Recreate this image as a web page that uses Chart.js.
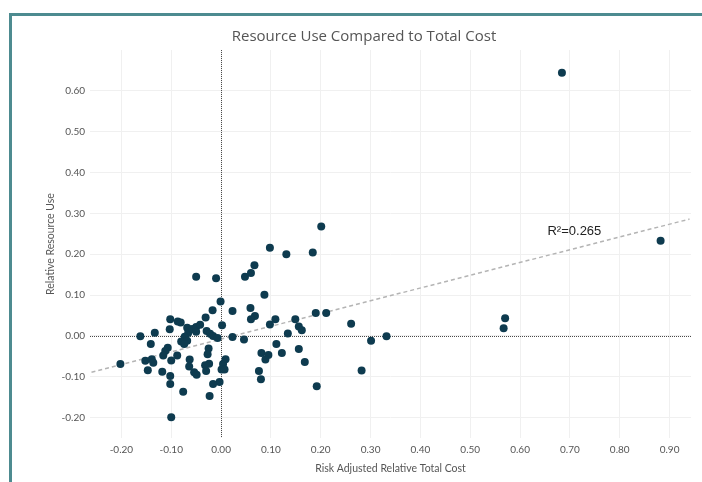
<!DOCTYPE html>
<html>
<head>
<meta charset="utf-8">
<title>Resource Use Compared to Total Cost</title>
<script src="https://cdn.jsdelivr.net/npm/chart.js@4.4.1/dist/chart.umd.min.js"></script>
<style>
    html, body { margin: 0; padding: 0; background: #fff; }
    #wrap { position: relative; width: 702px; height: 482px; overflow: hidden; }
    #frame {
        position: absolute; left: 9px; top: 13px; width: 720px; height: 500px;
        border-left: 3px solid #4d8b90; border-top: 3px solid #4d8b90;
        pointer-events: none;
    }
</style>
</head>
<body>
<div id="wrap">
    <canvas id="chart" width="702" height="482"></canvas>
    <div id="frame"></div>
</div>
<script>
// risk adjusted relative total cost (x) / relative resource use (y), one entry per provider
const costValues = [0.684, 0.882, 0.201, 0.098, 0.131, 0.184, 0.067, 0.060, 0.048, -0.050,
    -0.010, 0.087, -0.001, -0.017, 0.023, 0.059, 0.068, 0.060, -0.031, -0.102,
    -0.087, -0.081, 0.002, 0.109, 0.149, 0.190, 0.211, 0.098, 0.156, 0.162,
    0.261, 0.567, 0.570, -0.103, -0.068, -0.066, -0.058, -0.050, -0.042, -0.050,
    -0.133, -0.162, -0.029, -0.022, -0.016, -0.007, 0.023, 0.046, 0.134, -0.073,
    -0.080, -0.068, -0.074, -0.141, 0.301, 0.332, 0.111, -0.107, -0.112, -0.116,
    -0.025, -0.027, -0.088, -0.152, -0.139, -0.136, -0.100, -0.063, -0.202, 0.009,
    0.004, 0.001, 0.007, -0.024, -0.032, -0.030, -0.064, -0.054, -0.049, -0.147,
    -0.118, 0.076, 0.080, 0.081, 0.095, 0.089, 0.122, 0.156, 0.168, 0.282,
    -0.102, -0.102, -0.003, -0.016, -0.076, -0.023, -0.100, 0.192];

const resourceValues = [0.644, 0.233, 0.268, 0.216, 0.200, 0.204, 0.173, 0.154, 0.145, 0.145,
    0.141, 0.101, 0.084, 0.063, 0.061, 0.068, 0.049, 0.041, 0.045, 0.041,
    0.035, 0.033, 0.026, 0.041, 0.041, 0.056, 0.056, 0.028, 0.023, 0.014,
    0.030, 0.019, 0.043, 0.016, 0.020, 0.007, 0.017, 0.022, 0.027, 0.010,
    0.008, -0.001, 0.012, 0.005, 0.000, -0.005, -0.003, -0.009, 0.006, -0.002,
    -0.014, -0.012, -0.020, -0.020, -0.012, -0.001, -0.020, -0.029, -0.037, -0.048,
    -0.031, -0.045, -0.048, -0.061, -0.057, -0.066, -0.060, -0.058, -0.069, -0.057,
    -0.069, -0.082, -0.082, -0.068, -0.072, -0.086, -0.075, -0.089, -0.095, -0.084,
    -0.088, -0.086, -0.106, -0.042, -0.047, -0.058, -0.042, -0.032, -0.064, -0.085,
    -0.098, -0.118, -0.113, -0.118, -0.137, -0.147, -0.199, -0.123];

// trend line end points
const trendX = [-0.26, 0.94];
const trendY = [-0.089, 0.286];
const trendLabel = 'R\u00B2=0.265';

// tick labels shown on each axis
const xTicks = [-0.2, -0.1, 0, 0.1, 0.2, 0.3, 0.4, 0.5, 0.6, 0.7, 0.8, 0.9];
const yTicks = [-0.2, -0.1, 0, 0.1, 0.2, 0.3, 0.4, 0.5, 0.6];

const TEXT = '#555555';
const GRID = '#f0f0f0';
const DOT = '#0e3b4f';

let points = [];
for (let i = 0; i < costValues.length; i++) {
    points.push({ x: costValues[i], y: resourceValues[i] });
}

let trend = [];
for (let i = 0; i < trendX.length; i++) {
    trend.push({ x: trendX[i], y: trendY[i] });
}

function keepTicks(list) {
    return function (axis) {
        axis.ticks = list.map(v => ({ value: v }));
    };
}

// dotted zero lines + the R² note
const extras = {
    id: 'extras',
    beforeDatasetsDraw(chart) {
        const { ctx, chartArea, scales } = chart;
        const x0 = Math.round(scales.x.getPixelForValue(0)) + 0.5;
        const y0 = Math.round(scales.y.getPixelForValue(0)) + 0.5;
        ctx.save();
        ctx.strokeStyle = '#4a4a4a';
        ctx.lineWidth = 1;
        ctx.setLineDash([1, 1]);
        ctx.beginPath();
        ctx.moveTo(x0, chartArea.top);
        ctx.lineTo(x0, chartArea.bottom);
        ctx.moveTo(chartArea.left, y0);
        ctx.lineTo(chartArea.right, y0);
        ctx.stroke();
        ctx.restore();
    },
    afterDatasetsDraw(chart) {
        const { ctx, scales } = chart;
        ctx.save();
        ctx.fillStyle = '#222';
        ctx.font = '13px "Liberation Sans", Arial, sans-serif';
        ctx.textAlign = 'left';
        ctx.textBaseline = 'middle';
        ctx.fillText(trendLabel, scales.x.getPixelForValue(0.655), scales.y.getPixelForValue(0.256));
        ctx.restore();
    }
};

new Chart(document.getElementById('chart'), {
    type: 'scatter',
    data: {
        datasets: [
            {
                label: 'Providers',
                data: points,
                backgroundColor: DOT,
                borderColor: DOT,
                borderWidth: 0,
                pointRadius: 4,
                order: 0
            },
            {
                type: 'line',
                label: 'Trend',
                data: trend,
                borderColor: '#b4b4b4',
                borderWidth: 1.5,
                borderDash: [4, 3],
                pointRadius: 0,
                fill: false,
                order: 1
            }
        ]
    },
    options: {
        responsive: false,
        animation: false,
        devicePixelRatio: 1,
        layout: { padding: { left: 37, right: 11, top: 0, bottom: 0 } },
        plugins: {
            legend: { display: false },
            tooltip: { enabled: false },
            title: {
                display: true,
                text: 'Resource Use Compared to Total Cost',
                color: TEXT,
                font: { family: '"Open Sans", sans-serif', size: 15, weight: 'normal', lineHeight: 1.2 },
                padding: { top: 28, bottom: 4 }
            }
        },
        scales: {
            x: {
                type: 'linear',
                min: -0.263,
                max: 0.943,
                afterBuildTicks: keepTicks(xTicks),
                afterFit(axis) { axis.height = 44; },
                border: { display: false },
                grid: { color: GRID, lineWidth: 1, drawTicks: false },
                ticks: {
                    color: TEXT,
                    padding: 6,
                    maxRotation: 0,
                    font: { family: 'Lato, sans-serif', size: 10 },
                    callback: v => v.toFixed(2)
                },
                title: {
                    display: true,
                    text: 'Risk Adjusted Relative Total Cost',
                    color: TEXT,
                    font: { family: 'Lato, sans-serif', size: 10.5, lineHeight: 1.2 },
                    padding: { top: 0, bottom: 7 }
                }
            },
            y: {
                type: 'linear',
                min: -0.25,
                max: 0.70,
                afterBuildTicks: keepTicks(yTicks),
                afterFit(axis) { axis.width = 53; },
                border: { display: false },
                grid: { color: GRID, lineWidth: 1, drawTicks: false },
                ticks: {
                    color: TEXT,
                    padding: 5,
                    font: { family: 'Lato, sans-serif', size: 10 },
                    callback: v => v.toFixed(2)
                },
                title: {
                    display: true,
                    text: 'Relative Resource Use',
                    color: TEXT,
                    font: { family: 'Lato, sans-serif', size: 10.5, lineHeight: 1.2 },
                    padding: { top: 7, bottom: 0 }
                }
            }
        }
    },
    plugins: [extras]
});
</script>
</body>
</html>
